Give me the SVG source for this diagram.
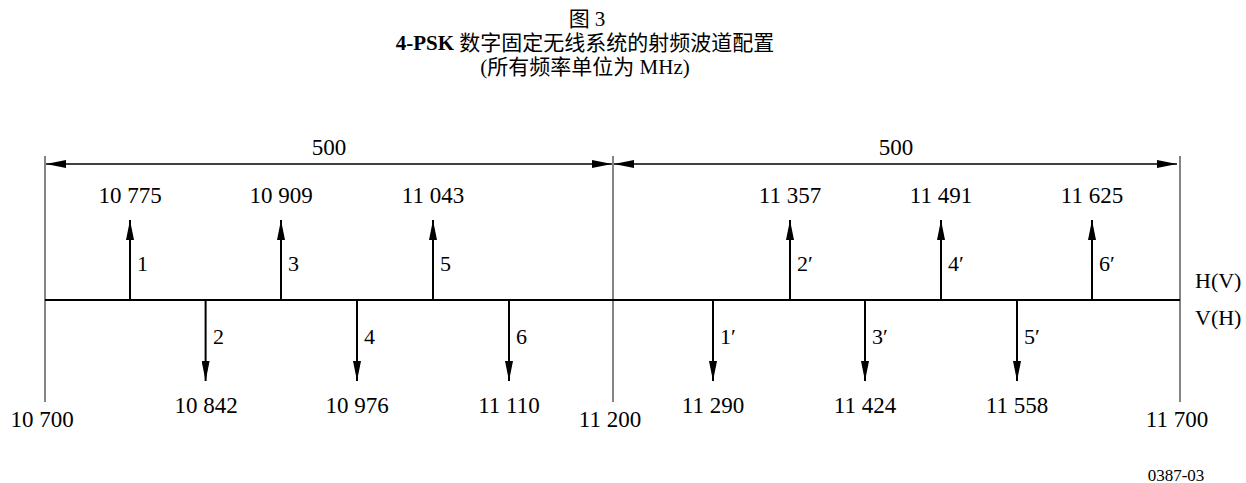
<svg xmlns="http://www.w3.org/2000/svg" width="1246" height="483" viewBox="0 0 1246 483">
<style>
text{font-family:"Liberation Serif","Noto Sans CJK SC",serif;fill:#000}
.t{font-size:21px;text-anchor:middle}
.n{font-size:23px;text-anchor:middle}
.c{font-size:22px}
.thin{stroke:#333;stroke-width:1.2;fill:none}
.base{stroke:#000;stroke-width:2;fill:none}
.stem{stroke:#000;stroke-width:2;fill:none}
.dim{stroke:#000;stroke-width:1.4;fill:none}
</style>
<defs>
<marker id="ah" markerUnits="userSpaceOnUse" markerWidth="20" markerHeight="8" refX="20" refY="4" orient="auto-start-reverse" viewBox="0 0 20 8">
<path d="M0,0 L20,4 L0,8 z" fill="#000"/>
</marker>
</defs>
<g id="title">
<text class="t" x="587" y="26">图 3</text>
<text class="t" x="585" y="50"><tspan font-weight="bold">4-PSK</tspan> 数字固定无线系统的射频波道配置</text>
<text class="t" x="585" y="74">(所有频率单位为 MHz)</text>
</g>
<g id="frame">
<line class="thin" x1="45" y1="156" x2="45" y2="402"/>
<line class="thin" x1="613" y1="156" x2="613" y2="402"/>
<line class="thin" x1="1180" y1="156" x2="1180" y2="402"/>
<line class="base" x1="45" y1="300" x2="1180" y2="300"/>
<text class="c" x="1195" y="288">H(V)</text>
<text class="c" x="1195" y="325">V(H)</text>
<text class="n" x="42" y="427">10 700</text>
<text class="n" x="610" y="427">11 200</text>
<text class="n" x="1177" y="427">11 700</text>
<text x="1176" y="481" font-size="17" text-anchor="middle">0387-03</text>
</g>
<g id="connectors">
<line class="dim" x1="46" y1="164" x2="612" y2="164" marker-start="url(#ah)" marker-end="url(#ah)"/>
<line class="dim" x1="614" y1="164" x2="1177" y2="164" marker-start="url(#ah)" marker-end="url(#ah)"/>
<line class="stem" x1="130" y1="300" x2="130" y2="220" marker-end="url(#ah)"/>
<line class="stem" x1="205.6" y1="300" x2="205.6" y2="381" marker-end="url(#ah)"/>
<line class="stem" x1="281" y1="300" x2="281" y2="220" marker-end="url(#ah)"/>
<line class="stem" x1="357" y1="300" x2="357" y2="381" marker-end="url(#ah)"/>
<line class="stem" x1="433" y1="300" x2="433" y2="220" marker-end="url(#ah)"/>
<line class="stem" x1="509" y1="300" x2="509" y2="381" marker-end="url(#ah)"/>
<line class="stem" x1="713" y1="300" x2="713" y2="381" marker-end="url(#ah)"/>
<line class="stem" x1="790" y1="300" x2="790" y2="220" marker-end="url(#ah)"/>
<line class="stem" x1="865" y1="300" x2="865" y2="381" marker-end="url(#ah)"/>
<line class="stem" x1="941" y1="300" x2="941" y2="220" marker-end="url(#ah)"/>
<line class="stem" x1="1017" y1="300" x2="1017" y2="381" marker-end="url(#ah)"/>
<line class="stem" x1="1092" y1="300" x2="1092" y2="220" marker-end="url(#ah)"/>
</g>
<g id="dim-labels">
<text class="n" x="329" y="155">500</text>
<text class="n" x="896" y="155">500</text>
</g>
<g id="ch1"><text class="n" x="130" y="203">10 775</text><text class="c" x="137" y="271">1</text></g>
<g id="ch2"><text class="n" x="206" y="413">10 842</text><text class="c" x="213" y="344">2</text></g>
<g id="ch3"><text class="n" x="281" y="203">10 909</text><text class="c" x="288" y="271">3</text></g>
<g id="ch4"><text class="n" x="357" y="413">10 976</text><text class="c" x="364" y="344">4</text></g>
<g id="ch5"><text class="n" x="433" y="203">11 043</text><text class="c" x="440" y="271">5</text></g>
<g id="ch6"><text class="n" x="509" y="413">11 110</text><text class="c" x="516" y="344">6</text></g>
<g id="ch1p"><text class="n" x="713" y="413">11 290</text><text class="c" x="720" y="344">1′</text></g>
<g id="ch2p"><text class="n" x="790" y="203">11 357</text><text class="c" x="797" y="271">2′</text></g>
<g id="ch3p"><text class="n" x="865" y="413">11 424</text><text class="c" x="872" y="344">3′</text></g>
<g id="ch4p"><text class="n" x="941" y="203">11 491</text><text class="c" x="948" y="271">4′</text></g>
<g id="ch5p"><text class="n" x="1017" y="413">11 558</text><text class="c" x="1024" y="344">5′</text></g>
<g id="ch6p"><text class="n" x="1092" y="203">11 625</text><text class="c" x="1099" y="271">6′</text></g>
</svg>
